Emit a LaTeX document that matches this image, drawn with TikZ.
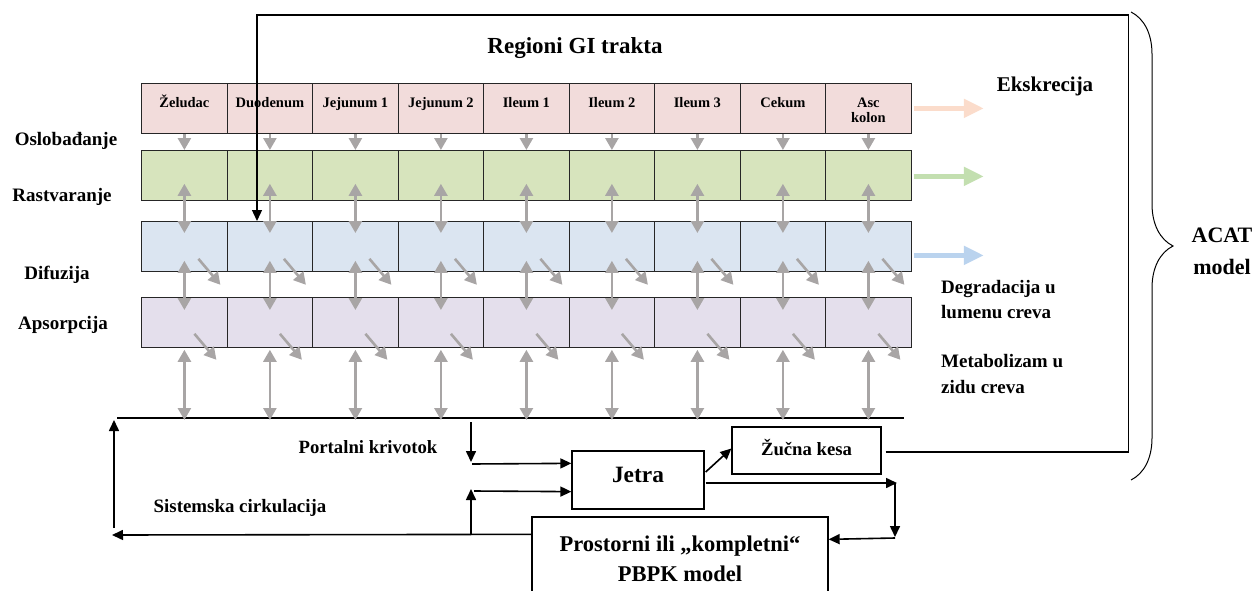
\documentclass[tikz,border=0pt]{standalone}
\usepackage{fontspec}
\setmainfont{Liberation Serif}
\usetikzlibrary{arrows.meta,calc,positioning,decorations.pathreplacing}
\definecolor{cellpink}{HTML}{F2DCDB}
\definecolor{cellgreen}{HTML}{D7E4BD}
\definecolor{cellblue}{HTML}{DBE5F1}
\definecolor{cellpurple}{HTML}{E4DFEC}
\definecolor{outpeach}{HTML}{FBDCCB}
\definecolor{outgreen}{HTML}{C3DFB0}
\definecolor{outblue}{HTML}{BAD3EE}
\definecolor{flowgray}{HTML}{A8A5A5}

\begin{document}
\begin{tikzpicture}[x=1pt,y=-1pt,
    txt/.style 2 args={inner sep=0pt,font=\bfseries\fontsize{#1}{#2}\selectfont},
    cell/.style={draw=black!85,line width=1.3pt,minimum width=85.5pt,minimum height=49.5pt,anchor=north west,inner sep=0pt},
    celllab/.style={txt={14.5}{16},align=center,anchor=base},
    organ/.style={draw,line width=1.3pt,inner sep=0pt},
    gflow/.style={draw=flowgray,line width=2.6pt,-{Triangle[width=13pt,length=12pt]}},
    gboth/.style={gflow,{Triangle[width=13pt,length=12pt]}-{Triangle[width=13pt,length=12pt]}},
    outflow/.style={line width=5pt,-{Triangle[width=18pt,length=20pt]}},
    link/.style={line width=1.6pt,-{Triangle[width=10pt,length=11pt]}},
    frame/.style={line width=1.3pt}]
    \useasboundingbox (0,0) rectangle (1257,591);

    \foreach \r/\y/\c in {osl/83/cellpink,ras/150/cellgreen,dif/221/cellblue,aps/297/cellpurple}
        \foreach \i in {1,...,9}
            \node[cell,fill=\c] (\r\i) at ({141+85.5*(\i-1)},\y) {};
    \foreach \t/\d [count=\i] in {Želudac/24,Duodenum/24,Jejunum 1/24,Jejunum 2/24,Ileum 1/24,Ileum 2/24,Ileum 3/24,Cekum/24,{Asc\\kolon}/40}
        \node[celllab] (ime\i) at ($(osl\i.north)+(0,\d)$) {\t};

    \coordinate (krvL) at (117,418);
    \coordinate (krvR) at (904,418);
    \draw[frame] (krvL) -- (krvR);

    \foreach \i in {1,...,9}{
        \draw[gflow] (osl\i.south) -- (ras\i.north);
        \draw[gboth] ($(ras\i.south)+(0,-17)$) -- ($(dif\i.north)+(0,12)$);
        \draw[gboth] ($(dif\i.south)+(0,-11)$) -- ($(aps\i.north)+(0,13)$);
        \draw[gflow] ($(dif\i.south)+(14,-13)$) -- ++(22,26);
        \draw[gflow] ($(aps\i.south)+(10,-14)$) -- ++(22,26);
        \draw[gboth] ($(aps\i.south)+(0,2)$) -- ($(aps\i.south |- krvL)+(0,2)$);
    }

    \draw[outflow,outpeach] ($(osl9.east)+(2,0)$) -- ++(70,0);
    \draw[outflow,outgreen] ($(ras9.east)+(2,1)$) -- ++(70,0);
    \draw[outflow,outblue] ($(dif9.east)+(2,9)$) -- ++(70,0);

    \node[txt={23}{28}] (regioni) at (575,48) {Regioni GI trakta};
    \node[txt={21}{26}] (ekskrecija) at (1045,86) {Ekskrecija};
    \node[txt={19}{25}] (oslob) at (66,141) {Oslobađanje};
    \node[txt={19}{25}] (rastv) at (62,197) {Rastvaranje};
    \node[txt={19}{25}] (difuz) at (57,275) {Difuzija};
    \node[txt={19}{25}] (apsor) at (63,325) {Apsorpcija};
    \node[txt={19}{25},align=left,anchor=west] (degrad) at (941,300) {Degradacija u\\lumenu creva};
    \node[txt={19}{26},align=left,anchor=west] (metab) at (941,374) {Metabolizam u\\zidu creva};
    \node[txt={18.7}{24}] (portal) at (368,447) {Portalni krivotok};
    \node[txt={18.9}{24}] (sistem) at (240,508) {Sistemska cirkulacija};

    \node[organ,txt={23.4}{28},minimum width=132pt,minimum height=58pt,text height=16pt,text depth=12pt] (jetra) at (638,480) {Jetra};
    \node[organ,txt={18.7}{24},minimum width=149pt,minimum height=47pt,text height=13pt,text depth=4pt] (zucna) at (806.5,450.5) {Žučna kesa};
    \node[organ,txt={22.5}{30},align=center,minimum width=296pt,minimum height=83pt] (pbpk) at (680,558.5) {Prostorni ili „kompletni“\\PBPK model};

    \coordinate (sisL) at (112,535);
    \coordinate (sisU) at (114,528);
    \coordinate (odvod) at (471,535);
    \coordinate (dovod) at (471,422);
    \coordinate (vena) at (895,483);
    \coordinate (okvir) at (257,15);

    \draw[link] ($(pbpk.north west)+(0,18)$) -- (sisL);
    \draw[link] (sisU) -- ($(krvL)+(-3,2)$);
    \draw[link] (odvod) -- ++(0,-46);
    \draw[link] ($(odvod)+(3,-44)$) -- ($(jetra.south west)+(0,-18)$);
    \draw[link] (dovod) -- ++(0,40);
    \draw[link] ($(dovod)+(1,42)$) -- ($(jetra.north west)+(0,13)$);
    \draw[link] ($(jetra.east)+(1,-8)$) -- ($(zucna.west)+(0,-2)$);
    \draw[link] ($(jetra.east)+(1,3)$) -- ($(vena)+(2,0)$);
    \draw[link] (vena) -- ++(0,54);
    \draw[link] ($(vena)+(0,55)$) -- ($(pbpk.north east)+(0,23)$);

    \draw[frame,-{Triangle[width=10pt,length=11pt]}] ($(zucna.east)+(4,1.5)$) -- ++(243,0) |- (okvir) -- (okvir |- dif2.north);
    \draw[decorate,decoration={brace,amplitude=42pt},line width=1pt] (1131,12) -- (1131,480);
    \node[txt={22}{32},align=center] (acat) at (1222,251) {ACAT\\model};
\end{tikzpicture}
\end{document}
